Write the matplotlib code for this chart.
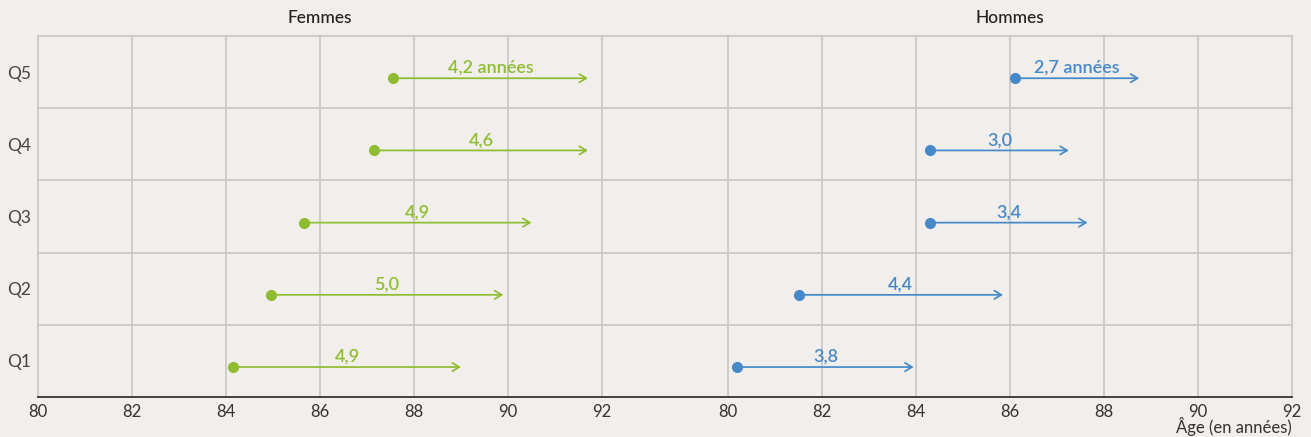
import matplotlib.pyplot as plt

quintiles = ['Q1', 'Q2', 'Q3', 'Q4', 'Q5']

# age at start (dot) and gain in years
femmes_start = [84.15, 84.95, 85.65, 87.15, 87.55]
femmes_gain = [4.9, 5.0, 4.9, 4.6, 4.2]
hommes_start = [80.2, 81.5, 84.3, 84.3, 86.1]
hommes_gain = [3.8, 4.4, 3.4, 3.0, 2.7]

xticks = [80, 82, 84, 86, 88, 90, 92]

bg = '#f1eeeb'
grid_col = '#c6c6c6'
green = '#8fbd31'
blue = '#4689c9'

fig = plt.figure(figsize=(13.11, 4.37), dpi=100, facecolor=bg)
px = 47.0  # pixels per year
ax1 = fig.add_axes([38 / 1311, 1 - 397 / 437, 690 / 1311, 361 / 437])
ax2 = fig.add_axes([728 / 1311, 1 - 397 / 437, 564 / 1311, 361 / 437])
ax1.set_xlim(80, 80 + 690 / px)
ax2.set_xlim(80, 92)


def draw_panel(ax, starts, gains, color, title):
    ax.set_facecolor(bg)
    ax.set_ylim(0.5, 5.5)
    for s in ['top', 'right', 'left']:
        ax.spines[s].set_visible(False)
    ax.spines['bottom'].set_color('#333333')
    ax.spines['bottom'].set_linewidth(1.3)
    for x in xticks:
        ax.axvline(x, color=grid_col, lw=1.2, zorder=0, clip_on=False)
    for y in [1.5, 2.5, 3.5, 4.5, 5.5]:
        ax.axhline(y, color=grid_col, lw=1.2, zorder=0, clip_on=False)
    ax.set_xticks(xticks)
    ax.set_xticklabels([str(t) for t in xticks], fontsize=12, color='#333333',
                       family='Lato')
    ax.tick_params(axis='x', length=0, pad=5)
    for i, (s, g) in enumerate(zip(starts, gains)):
        y = i + 1 - 0.085
        e = s + g - 0.05
        ax.annotate('', xy=(e, y), xytext=(s, y),
                    arrowprops=dict(arrowstyle='->,head_length=0.5,head_width=0.3',
                                    color=color, lw=1.25, shrinkA=0, shrinkB=0))
        ax.plot([s], [y], 'o', color=color, ms=7, zorder=5)
        lab = f'{g:.1f}'.replace('.', ',')
        if i == 4:
            lab += ' années'
        ax.text((s + e) / 2, y + 0.03, lab, ha='center', va='bottom',
                fontsize=13, color=color, family='Lato', fontweight='semibold')
    ax.text(86, 5.5 + 18 / 72, title, ha='center', va='center', fontsize=12.5,
            color='#222222', family='Lato', fontweight='medium')


draw_panel(ax1, femmes_start, femmes_gain, green, 'Femmes')
draw_panel(ax2, hommes_start, hommes_gain, blue, 'Hommes')

ax1.set_yticks(range(1, 6))
ax1.set_yticklabels(quintiles, fontsize=12.5, color='#444444', family='Lato')
ax1.tick_params(axis='y', length=0, pad=5)
ax2.set_yticks([])

fig.text(1292 / 1311, 1 - 427 / 437, 'Âge (en années)', ha='right', va='center',
         fontsize=12, color='#333333', family='Lato')

fig.savefig('out.png', dpi=100, facecolor=bg)
